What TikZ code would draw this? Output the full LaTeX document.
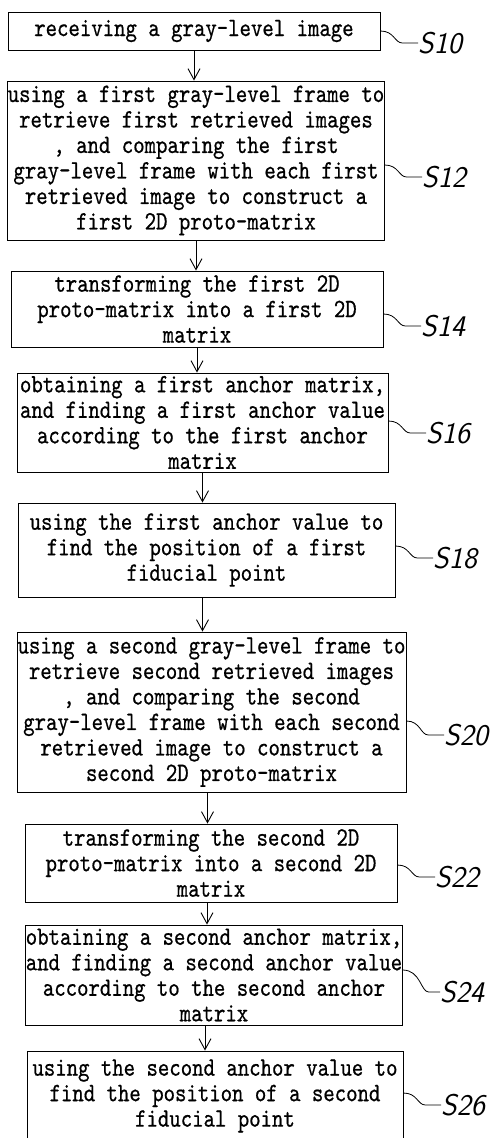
\documentclass[tikz,border=0pt]{standalone}
\usepackage{fontspec}
\usepackage{tikz}
\usetikzlibrary{calc,arrows.meta}
\newfontfamily\flowtt[FakeStretch=0.82,FakeBold=0.6]{lmmono10-regular.otf}
\newcommand{\boxfont}{\fontsize{26.5}{25.5}\selectfont\flowtt}
\newcommand{\labfont}{\fontsize{30}{30}\selectfont\sffamily\itshape}
\tikzset{
  stepbox/.style={draw, line width=0.9pt, inner sep=0pt, align=center, font=\boxfont},
  flow/.style={draw, line width=0.9pt, -{Straight Barb[length=11pt,width=12pt]}},
  wig/.style={draw, line width=0.8pt},
  labs/.style={font=\labfont, anchor=west, inner sep=0pt}
}

\begin{document}
\begin{tikzpicture}[x=1pt, y=-1pt]
  \useasboundingbox (0,0) rectangle (496,1138);

  % steps
  \node[stepbox, minimum width=372pt, minimum height=38pt] (s10) at (194,31)
    {receiving a gray-level image};
  \node[stepbox, minimum width=376pt, minimum height=159pt] (s12) at (196,160.5)
    {using a first gray-level frame to\\retrieve first retrieved images\\, and comparing the first\\gray-level frame with each first\\retrieved image to construct a\\first 2D proto-matrix};
  \node[stepbox, minimum width=372pt, minimum height=76pt] (s14) at (197,309)
    {transforming the first 2D\\proto-matrix into a first 2D\\matrix};
  \node[stepbox, minimum width=371pt, minimum height=99pt] (s16) at (202.5,422.5)
    {obtaining a first anchor matrix,\\and finding a first anchor value\\according to the first anchor\\matrix};
  \node[stepbox, minimum width=377pt, minimum height=94pt] (s18) at (206.5,550)
    {using the first anchor value to\\find the position of a first\\fiducial point};
  \node[stepbox, minimum width=389pt, minimum height=160pt] (s20) at (211.5,712)
    {using a second gray-level frame to\\retrieve second retrieved images\\, and comparing the second\\gray-level frame with each second\\retrieved image to construct a\\second 2D proto-matrix};
  \node[stepbox, minimum width=372pt, minimum height=78pt] (s22) at (211,863)
    {transforming the second 2D\\proto-matrix into a second 2D\\matrix};
  \node[stepbox, minimum width=376pt, minimum height=100pt] (s24) at (214,975)
    {obtaining a second anchor matrix,\\and finding a second anchor value\\according to the second anchor\\matrix};
  \node[stepbox, minimum width=376pt, minimum height=90pt] (s26) at (215,1096)
    {using the second anchor value to\\find the position of a second\\fiducial point};

  % flow
  \draw[flow] (s10.south) -- (s10.south |- s12.north);
  \draw[flow] (s12.south) -- (s12.south |- s14.north);
  \draw[flow] (s14.south) -- (s14.south |- s16.north);
  \draw[flow] (s16.south) -- (s16.south |- s18.north);
  \draw[flow] ([xshift=-4pt]s18.south) -- ([xshift=-4pt]s18.south |- s20.north);
  \draw[flow] ([xshift=-4pt]s20.south) -- ([xshift=-4pt]s20.south |- s22.north);
  \draw[flow] ([xshift=-4pt]s22.south) -- ([xshift=-4pt]s22.south |- s24.north);
  \draw[flow] ([xshift=-9pt]s24.south) -- ([xshift=-9pt]s24.south |- s26.north);

  % step labels
  \node[labs] (l10) at (418,43) {S10};
  \node[labs] (l12) at (422,177) {S12};
  \node[labs] (l14) at (421,326) {S14};
  \node[labs] (l16) at (426,433) {S16};
  \node[labs] (l18) at (433,558) {S18};
  \node[labs] (l20) at (444,735) {S20};
  \node[labs] (l22) at (435,877) {S22};
  \node[labs] (l24) at (440,992) {S24};
  \node[labs] (l26) at (441,1105) {S26};

  \draw[wig] ($(s10.east |- l10.west)+(0,-12)$) .. controls +(14,0) and +(-8,0) .. ++(22,12) -- (l10.west);
  \draw[wig] ($(s12.east |- l12.west)+(0,-12)$) .. controls +(14,0) and +(-8,0) .. ++(22,12) -- (l12.west);
  \draw[wig] ($(s14.east |- l14.west)+(0,-12)$) .. controls +(14,0) and +(-8,0) .. ++(22,12) -- (l14.west);
  \draw[wig] ($(s16.east |- l16.west)+(0,-12)$) .. controls +(14,0) and +(-8,0) .. ++(22,12) -- (l16.west);
  \draw[wig] ($(s18.east |- l18.west)+(0,-12)$) .. controls +(14,0) and +(-8,0) .. ++(22,12) -- (l18.west);
  \draw[wig] ($(s20.east |- l20.west)+(0,-14)$) .. controls +(14,0) and +(-8,0) .. ++(22,14) -- (l20.west);
  \draw[wig] ($(s22.east |- l22.west)+(0,-12)$) .. controls +(14,0) and +(-8,0) .. ++(22,12) -- (l22.west);
  \draw[wig] ($(s24.east |- l24.west)+(0,-22)$) .. controls +(18,0) and +(-8,0) .. ++(26,22) -- (l24.west);
  \draw[wig] ($(s26.east |- l26.west)+(0,-12)$) .. controls +(14,0) and +(-8,0) .. ++(22,12) -- (l26.west);
\end{tikzpicture}
\end{document}
